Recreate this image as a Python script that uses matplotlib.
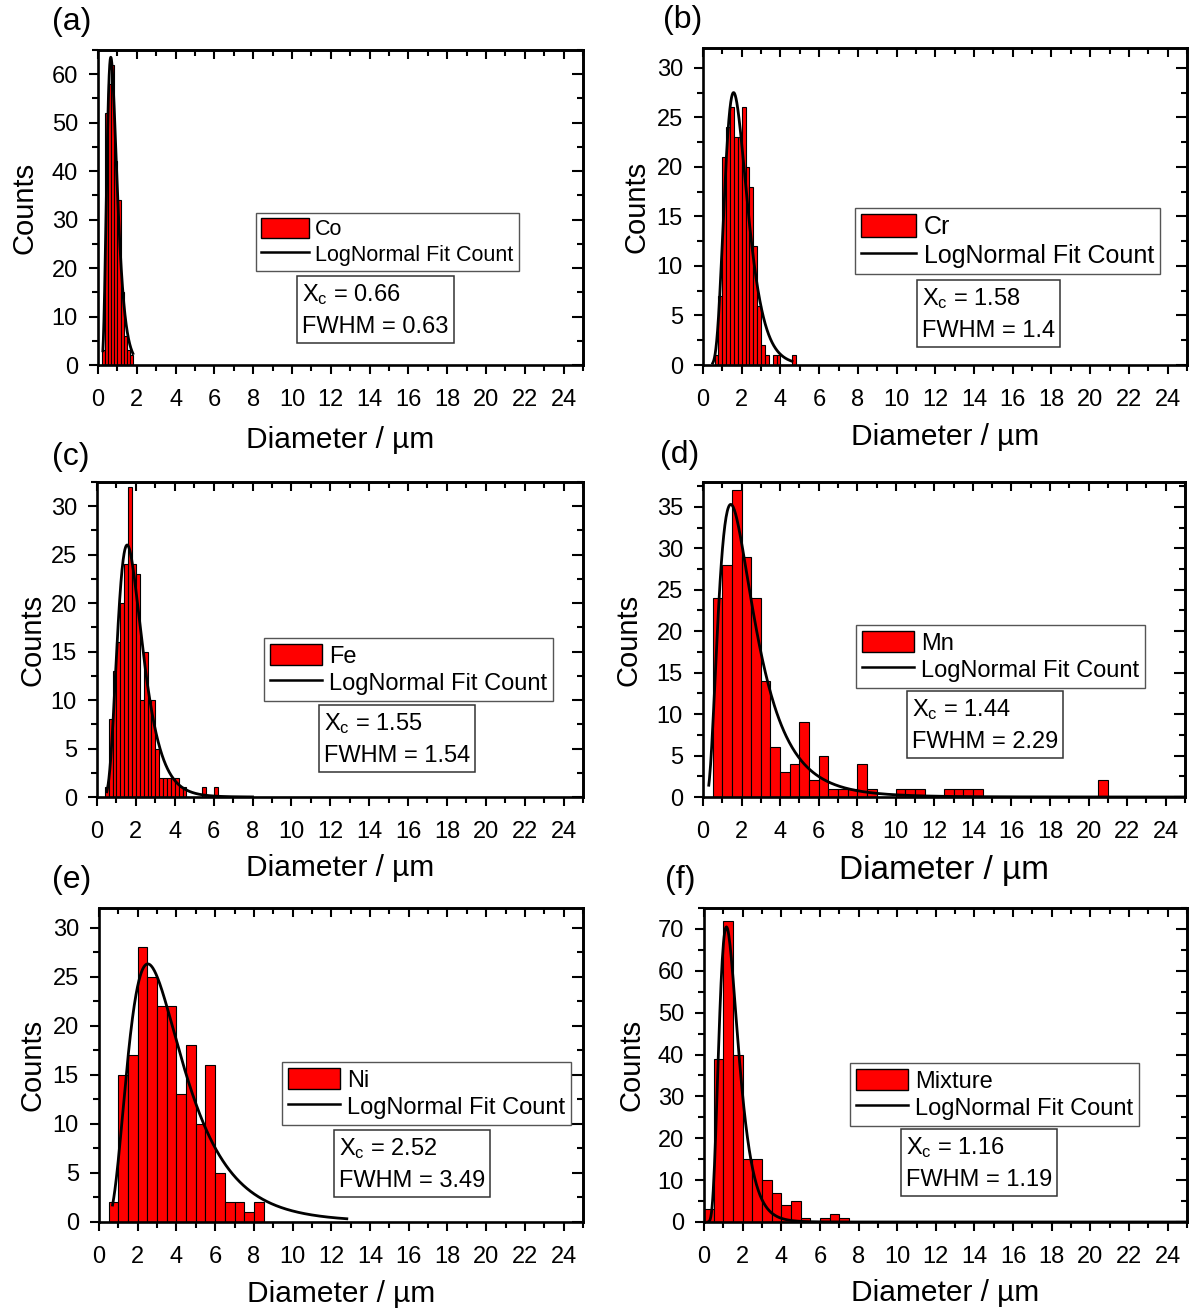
import numpy as np
import matplotlib
matplotlib.use('Agg')
import matplotlib.pyplot as plt
from matplotlib.patches import Patch
from matplotlib.lines import Line2D
from matplotlib.ticker import MultipleLocator

plt.rcParams['font.family'] = ['Liberation Sans', 'DejaVu Sans']
plt.rcParams['mathtext.fontset'] = 'custom'
plt.rcParams['mathtext.rm'] = 'Liberation Sans'
plt.rcParams['mathtext.it'] = 'Liberation Sans:italic'

# ---- data ----
names = ['Co', 'Cr', 'Fe', 'Mn', 'Ni', 'Mixture']
tags = ['(a)', '(b)', '(c)', '(d)', '(e)', '(f)']

bin_start = [0.2, 0.6, 0.4, 0.5, 0.5, 0.0]
bin_width = [0.16, 0.2, 0.2, 0.5, 0.5, 0.5]

co_counts = [3, 52, 58, 62, 42, 34, 15, 6, 3, 2]
cr_counts = [1, 7, 21, 24, 26, 23, 23, 26, 20, 18, 12, 6, 2, 1, 0, 1, 1, 0, 0, 0, 1]
fe_counts = [1, 8, 13, 16, 20, 24, 32, 24, 23, 10, 15, 10, 10, 5, 2, 2, 2, 2, 2,
             1, 1, 0, 0, 0, 0, 1, 0, 0, 1]
mn_counts = [24, 28, 37, 29, 24, 14, 6, 3, 4, 9, 2, 5, 1, 1, 1, 4, 1, 0, 0, 1, 1, 1,
             0, 0, 1, 1, 1, 1, 0, 0, 0, 0, 0, 0, 0, 0, 0, 0, 0, 0, 2]
ni_counts = [2, 15, 17, 28, 25, 22, 22, 13, 18, 10, 16, 5, 2, 2, 1, 2]
mix_counts = [3, 39, 72, 40, 15, 15, 10, 7, 4, 5, 1, 0, 1, 2, 1]
counts = [co_counts, cr_counts, fe_counts, mn_counts, ni_counts, mix_counts]

# LogNormal fit parameters (centre, FWHM, peak height) and drawn range
xc = [0.66, 1.58, 1.55, 1.44, 2.52, 1.16]
fwhm = [0.63, 1.4, 1.54, 2.29, 3.49, 1.19]
peak = [63.5, 27.5, 26.0, 35.3, 26.3, 70.5]
fit_lo = [0.25, 0.5, 0.5, 0.3, 0.7, 0.2]
fit_hi = [1.8, 4.6, 8.0, 25.0, 12.8, 25.0]

ymax = [65, 32, 32.5, 38, 32, 75]
ystep = [10, 5, 5, 5, 5, 10]

# ---- layout (pixels, from top-left) ----
W, H = 1193, 1313
axes_px = [(98, 50, 583, 365), (703, 48, 1187, 365), (97, 482, 583, 797),
           (703, 482, 1185, 797), (99, 908, 583, 1222), (704, 908, 1187, 1222)]
legend_px = [(256, 213), (855, 208), (264, 638), (856, 625), (282, 1062), (850, 1063)]
legend_fs = [15.5, 18, 17, 17, 17, 17]
box_px = [(293, 277), (913, 281), (315, 706), (903, 692), (330, 1131), (897, 1130)]
tag_px = [(52, 22), (663, 20), (52, 457), (660, 455), (52, 880), (665, 880)]
ylab_x = [25, 636, 33, 628, 33, 632]
xlab_y = [440, 437, 868, 871, 1294, 1293]
xlab_fs = [21.5, 21.5, 21.5, 24, 21.5, 21.5]

fig = plt.figure(figsize=(W / 100, H / 100), dpi=100)


def lognormal(x, m, fw, h):
    w = np.arcsinh(fw / (2 * m)) / np.sqrt(2 * np.log(2))
    return h * (m / x) * np.exp(w**2 / 2) * np.exp(-(np.log(x / m) - w**2)**2 / (2 * w**2))


for i in range(6):
    l, t, r, b = axes_px[i]
    ax = fig.add_axes([l / W, 1 - b / H, (r - l) / W, (b - t) / H])

    c = counts[i]
    edges = bin_start[i] + bin_width[i] * np.arange(len(c))
    ax.bar(edges, c, width=bin_width[i], align='edge', color='red',
           edgecolor='black', linewidth=0.8, zorder=2)

    xs = np.linspace(fit_lo[i], fit_hi[i], 800)
    ax.plot(xs, lognormal(xs, xc[i], fwhm[i], peak[i]), color='black', lw=2.0, zorder=3)

    ax.set_xlim(0, 25)
    ax.set_ylim(0, ymax[i])
    ax.set_xticks(np.arange(0, 25, 2))
    ax.xaxis.set_minor_locator(MultipleLocator(1))
    ax.yaxis.set_major_locator(MultipleLocator(ystep[i]))
    ax.yaxis.set_minor_locator(MultipleLocator(ystep[i] / 2))
    ax.tick_params(which='both', direction='out', labelsize=17, width=1.5)
    ax.tick_params(axis='x', pad=11)
    ax.tick_params(axis='y', pad=8)
    ax.tick_params(which='major', length=6.5)
    ax.tick_params(which='minor', length=4)
    for s in ax.spines.values():
        s.set_linewidth(1.9)

    top = ax.secondary_xaxis('top')
    top.set_xticks(np.arange(0, 25, 2))
    top.xaxis.set_minor_locator(MultipleLocator(1))
    top.tick_params(which='both', direction='in', labeltop=False, width=1.5)
    top.tick_params(which='major', length=6.5)
    top.tick_params(which='minor', length=4)
    top.spines['top'].set_linewidth(1.9)
    right = ax.secondary_yaxis('right')
    right.yaxis.set_major_locator(MultipleLocator(ystep[i]))
    right.yaxis.set_minor_locator(MultipleLocator(ystep[i] / 2))
    right.tick_params(which='both', direction='in', labelright=False, width=1.5)
    right.tick_params(which='major', length=8)
    right.tick_params(which='minor', length=4)
    right.spines['right'].set_linewidth(1.9)

    aw, ah = r - l, b - t
    ax.set_xlabel('Diameter / µm', fontsize=xlab_fs[i])
    ax.xaxis.set_label_coords(0.5, -(xlab_y[i] - b) / ah)
    ax.xaxis.label.set_va('center')
    ax.set_ylabel('Counts', fontsize=21)
    ax.yaxis.set_label_coords(-(l - ylab_x[i]) / aw, 0.5)
    ax.yaxis.label.set_va('center')

    handles = [Patch(facecolor='red', edgecolor='black', linewidth=1.0),
               Line2D([], [], color='black', lw=1.8)]
    lx, ly = legend_px[i]
    leg = ax.legend(handles, [names[i], 'LogNormal Fit Count'], loc='upper left',
                    bbox_to_anchor=(lx / W, 1 - ly / H), bbox_transform=fig.transFigure,
                    borderaxespad=0, fancybox=False, framealpha=1, edgecolor='#555555',
                    fontsize=legend_fs[i], handlelength=2.2, handleheight=1.0,
                    handletextpad=0.3, borderpad=0.25, labelspacing=0.15)
    leg.get_frame().set_linewidth(1.0)
    leg.set_zorder(5)

    bx, by = box_px[i]
    fig.text((bx + 9) / W, 1 - (by + 5) / H,
             'X$_\\mathrm{c}$ = %s\nFWHM = %s' % (xc[i], fwhm[i]),
             ha='left', va='top', fontsize=17, linespacing=1.55,
             bbox=dict(boxstyle='square,pad=0.22', fc='white', ec='#333333', lw=1.1))

    tx, ty = tag_px[i]
    fig.text(tx / W, 1 - ty / H, tags[i], ha='left', va='center', fontsize=23)

fig.savefig('out.png', dpi=100)
